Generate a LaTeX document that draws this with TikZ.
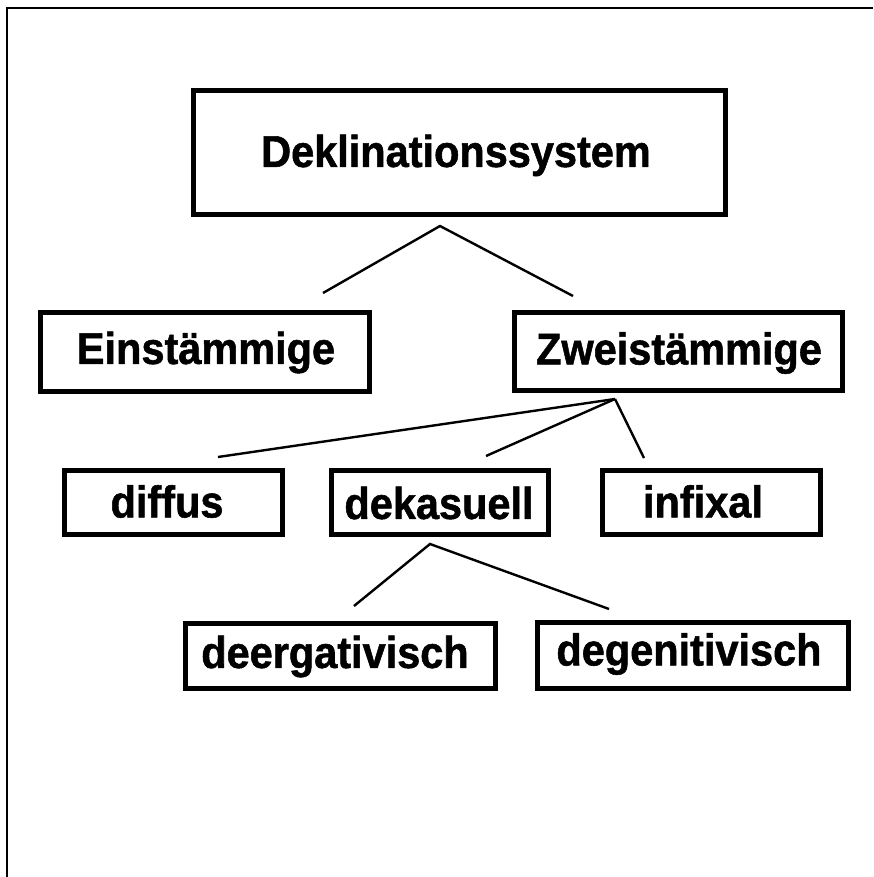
\documentclass[tikz,border=0pt]{standalone}
\usepackage{fontspec}
\setmainfont{Liberation Sans}
\newfontfamily\lblfont[FakeStretch=0.93, BoldFeatures={FakeBold=1.2}]{Liberation Sans}
\begin{document}
\begin{tikzpicture}[x=1pt,y=-1pt,
  box/.style={draw=black, line width=5pt, rectangle, inner sep=0pt, fill=none},
  lbl/.style={inner sep=0pt, text height=31.9pt, text depth=0pt,
    font=\lblfont\fontsize{44.6}{52}\selectfont\bfseries},
  conn/.style={draw=black, line width=2.4pt},
  frameline/.style={draw=black, line width=2pt}]
\useasboundingbox (0,0) rectangle (873,877);
% frame (top and left only)
\draw[frameline] (7,877) -- (7,8) -- (873,8);
% boxes
\node[box, minimum width=532pt, minimum height=124pt] (top) at (459.5,152.5) {};
\node[box, minimum width=329pt, minimum height=79pt] (ein) at (205,352) {};
\node[box, minimum width=328pt, minimum height=78pt] (zwei) at (678.5,351.5) {};
\node[box, minimum width=218pt, minimum height=64pt] (dif) at (173.5,502.5) {};
\node[box, minimum width=217pt, minimum height=64pt] (dek) at (440,502.5) {};
\node[box, minimum width=218pt, minimum height=64pt] (inf) at (711.5,502.5) {};
\node[box, minimum width=310pt, minimum height=65pt] (derg) at (340.5,656) {};
\node[box, minimum width=311pt, minimum height=66pt] (dgen) at (693,655.5) {};
% labels
\node[lbl] (ttop) at (456,151) {Deklinationssystem};
\node[lbl] (tein) at (206,348) {Einstämmige};
\node[lbl] (tzwei) at (679,348.5) {Zweistämmige};
\node[lbl] (tdif) at (167,501.5) {diffus};
\node[lbl] (tdek) at (439,503) {dekasuell};
\node[lbl] (tinf) at (703,501.5) {infixal};
\node[lbl] (tderg) at (335,652) {deergativisch};
\node[lbl] (tdgen) at (689,649.5) {degenitivisch};
% connector end points
\coordinate (a0) at (440,226);
\coordinate (a1) at (323,293);
\coordinate (a2) at (573,296);
\coordinate (b0) at (615,399);
\coordinate (b1) at (218,457);
\coordinate (b2) at (486,456);
\coordinate (b3) at (644,458);
\coordinate (c0) at (430,544);
\coordinate (c1) at (354,606);
\coordinate (c2) at (609,609);
% connectors
\draw[conn] (a1) -- (a0) -- (a2);
\draw[conn] (b0) -- (b1);
\draw[conn] (b0) -- (b2);
\draw[conn] (b0) -- (b3);
\draw[conn] (c1) -- (c0) -- (c2);
\end{tikzpicture}
\end{document}
